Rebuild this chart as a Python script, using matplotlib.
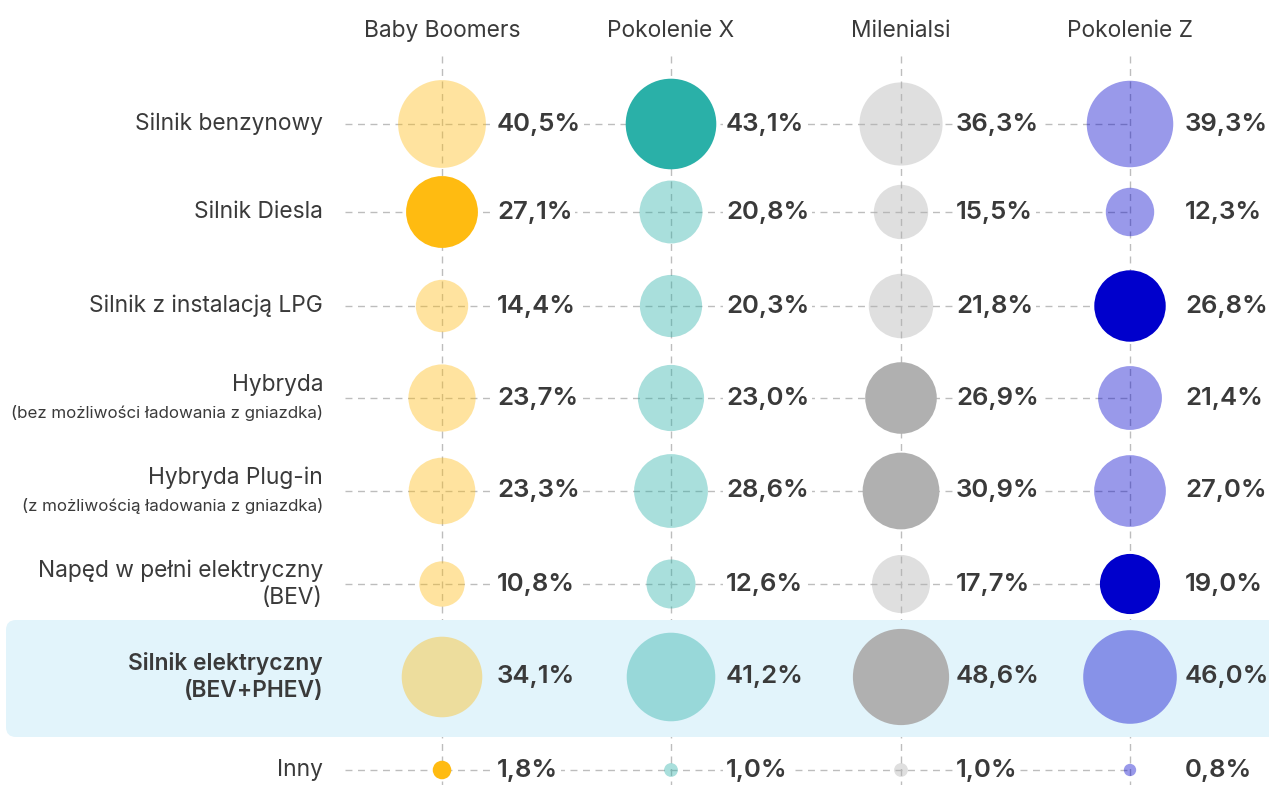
import matplotlib
matplotlib.use('Agg')
import matplotlib.pyplot as plt
from matplotlib.patches import Circle, FancyBboxPatch
import numpy as np

generations = ['Baby Boomers', 'Pokolenie X', 'Milenialsi', 'Pokolenie Z']
row_titles = ['Silnik benzynowy', 'Silnik Diesla', 'Silnik z instalacją LPG',
              'Hybryda', 'Hybryda Plug-in', 'Napęd w pełni elektryczny\n(BEV)',
              'Silnik elektryczny\n(BEV+PHEV)', 'Inny']
row_notes = ['', '', '', '(bez możliwości ładowania z gniazdka)',
             '(z możliwością ładowania z gniazdka)', '', '', '']

baby_boomers = [40.5, 27.1, 14.4, 23.7, 23.3, 10.8, 34.1, 1.8]
pokolenie_x = [43.1, 20.8, 20.3, 23.0, 28.6, 12.6, 41.2, 1.0]
milenialsi = [36.3, 15.5, 21.8, 26.9, 30.9, 17.7, 48.6, 1.0]
pokolenie_z = [39.3, 12.3, 26.8, 21.4, 27.0, 19.0, 46.0, 0.8]
values = [baby_boomers, pokolenie_x, milenialsi, pokolenie_z]

# which cells are drawn in full colour (the rest are faded)
strong = [[1, 7], [0], [3, 4, 6], [2, 5]]
colors = ['#FFBB11', '#2AB0A8', '#B0B0B0', '#0000CC']
summary_row = 6

W, H = 1269, 785
col_x = [442, 671, 901, 1130]
row_y = [124, 212, 306, 398, 491, 584, 677, 770]
k = 13.8  # diameter px per sqrt(percent)
text_c = '#3a3a3a'
grid_c = '#bdbdbd'
band_c = '#E2F4FB'
font = 'Inter'

fig = plt.figure(figsize=(W / 100, H / 100), dpi=100)
ax = fig.add_axes([0, 0, 1, 1])
ax.set_xlim(0, W)
ax.set_ylim(H, 0)
ax.axis('off')

# grid lines
for x in col_x:
    ax.plot([x, x], [56, H], color=grid_c, lw=1, ls=(0, (5, 4)), zorder=1)
for i, y in enumerate(row_y):
    if i == summary_row:
        continue
    ax.plot([345, col_x[-1]], [y, y], color=grid_c, lw=1, ls=(0, (5, 4)), zorder=1)

# highlight band
band = FancyBboxPatch((6, 620), W + 20, 117, boxstyle='round,pad=0,rounding_size=10',
                      fc=band_c, ec='none', zorder=2)
ax.add_patch(band)

# headers
for x, g in zip(col_x, generations):
    ax.text(x, 31, g, ha='center', va='center', fontsize=16.4, color=text_c, family=font)

# row labels
for i, (t, n, y) in enumerate(zip(row_titles, row_notes, row_y)):
    if n:
        ax.text(323, y - 13, t, ha='right', va='center', fontsize=16.4, color=text_c, family=font)
        ax.text(323, y + 15, n, ha='right', va='center', fontsize=12.2, color=text_c, family=font)
    else:
        ax.text(323, y, t, ha='right', va='center', fontsize=16.4, color=text_c, family=font,
                fontweight='semibold' if i == summary_row else 'normal', linespacing=1.32)

# bubbles and values
for j, (x, vals) in enumerate(zip(col_x, values)):
    for i, (v, y) in enumerate(zip(vals, row_y)):
        r = k * np.sqrt(v) / 2
        a = 1.0 if i in strong[j] else 0.4
        ax.add_patch(Circle((x, y), r, fc=colors[j], alpha=a, ec='none', zorder=3))
        bg = band_c if i == summary_row else 'white'
        ax.text(x + 55, y, f'{v:.1f}%'.replace('.', ','), ha='left', va='center',
                fontsize=18.5, fontweight='semibold', color=text_c, family=font, zorder=4,
                bbox=dict(fc=bg, ec='none', pad=2))

fig.savefig('out.png', dpi=100)
